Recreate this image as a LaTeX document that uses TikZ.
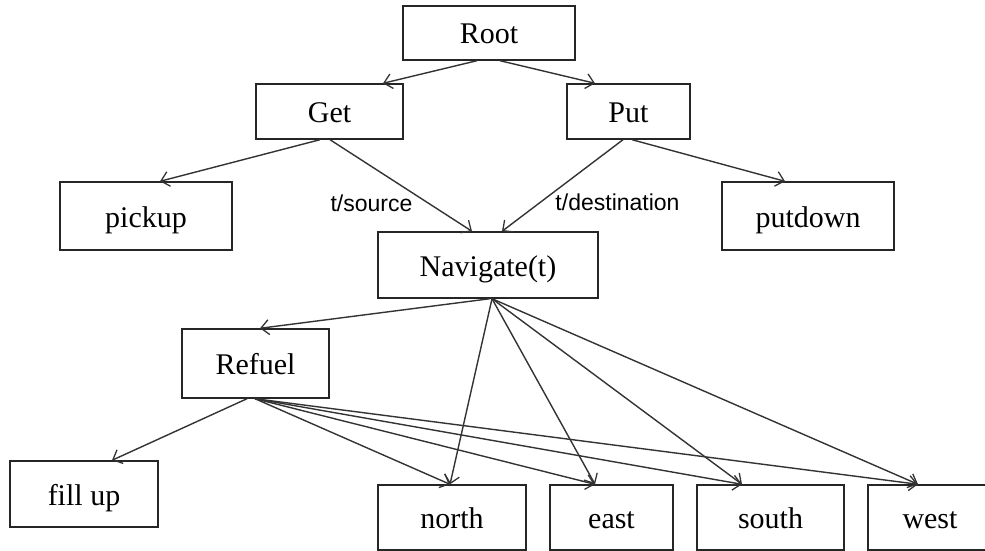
\documentclass[tikz,border=0pt]{standalone}
\usepackage{fontspec}
\setmainfont{Liberation Serif}
\newfontfamily\lblfont{Liberation Sans}
\usetikzlibrary{arrows.meta}
\tikzset{
  box/.style={draw=black!85, line width=1.4pt, rectangle, inner sep=0pt, text height=26pt, text depth=4pt, font=\fontsize{30}{33}\selectfont},
  arr/.style={draw=black!80, line width=1.4pt, -{Straight Barb[length=8pt,width=15pt,line width=1.3pt]}},
  lbl/.style={font=\lblfont\fontsize{23}{26}\selectfont, inner sep=0pt}
}
\begin{document}
\begin{tikzpicture}[x=1pt,y=-1pt]
\useasboundingbox (0,0) rectangle (985,551);
\clip (0,0) rectangle (985,551);
\node[box, minimum width=172pt, minimum height=54pt] (root) at (489,33) {Root};
\node[box, minimum width=147pt, minimum height=55pt] (get) at (329.5,111.5) {Get};
\node[box, minimum width=123pt, minimum height=55pt] (put) at (628.5,111.5) {Put};
\node[box, minimum width=172pt, minimum height=68pt] (pickup) at (146,216) {pickup};
\node[box, minimum width=172pt, minimum height=68pt] (putdown) at (808,216) {putdown};
\node[box, minimum width=220pt, minimum height=66pt] (nav) at (488,265) {Navigate(t)};
\node[box, minimum width=147pt, minimum height=69pt] (refuel) at (255.5,363.5) {Refuel};
\node[box, minimum width=148pt, minimum height=66pt] (fillup) at (84,494) {fill up};
\node[box, minimum width=148pt, minimum height=65pt] (north) at (452,517.5) {north};
\node[box, minimum width=123pt, minimum height=65pt] (east) at (611.5,517.5) {east};
\node[box, minimum width=147pt, minimum height=65pt] (south) at (770.5,517.5) {south};
\node[box, minimum width=124pt, minimum height=65pt] (west) at (930,517.5) {west};

\draw[arr] ([xshift=-12pt]root.south) -- ([xshift=53.5pt]get.north);
\draw[arr] ([xshift=11pt]root.south) -- ([xshift=-33.5pt]put.north);
\draw[arr] ([xshift=-9.5pt]get.south) -- ([xshift=14pt]pickup.north);
\draw[arr] ([xshift=0.5pt]get.south) -- ([xshift=-16pt]nav.north);
\draw[arr] ([xshift=-5.5pt]put.south) -- ([xshift=14pt]nav.north);
\draw[arr] ([xshift=3.5pt]put.south) -- ([xshift=-23pt]putdown.north);
\draw[arr] ([xshift=2pt]nav.south) -- ([xshift=4.5pt]refuel.north);
\draw[arr] ([xshift=4pt]nav.south) -- ([xshift=-2pt]north.north);
\draw[arr] ([xshift=4pt]nav.south) -- ([xshift=-16.5pt]east.north);
\draw[arr] ([xshift=4pt]nav.south) -- ([xshift=-28.5pt]south.north);
\draw[arr] ([xshift=4pt]nav.south) -- ([xshift=-12pt]west.north);
\draw[arr] ([xshift=-8.5pt]refuel.south) -- ([xshift=28pt]fillup.north);
\draw[arr] ([xshift=-0.5pt]refuel.south) -- ([xshift=-2pt]north.north);
\draw[arr] ([xshift=-0.5pt]refuel.south) -- ([xshift=-16.5pt]east.north);
\draw[arr] ([xshift=-0.5pt]refuel.south) -- ([xshift=-28.5pt]south.north);
\draw[arr] ([xshift=-0.5pt]refuel.south) -- ([xshift=-12pt]west.north);

\node[lbl] (lsrc) at (371.5,203) {t/source};
\node[lbl] (ldst) at (617.5,202) {t/destination};
\end{tikzpicture}
\end{document}
